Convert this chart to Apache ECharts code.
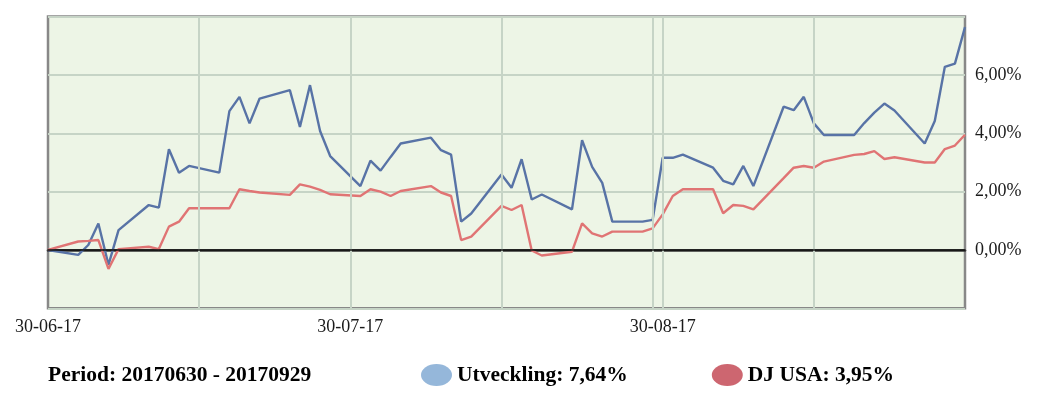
<!DOCTYPE html>
<html>
<head>
<meta charset="utf-8">
<script src="https://cdn.jsdelivr.net/npm/echarts@6/dist/echarts.min.js"></script>
<style>
  html, body { margin: 0; padding: 0; background: #fff; }
  #chart { width: 1041px; height: 397px; }
</style>
</head>
<body>
<div id="chart"></div>
<script>
// trading days in the period
const dates = [
  '2017-06-30',
  '2017-07-03', '2017-07-04', '2017-07-05', '2017-07-06', '2017-07-07',
  '2017-07-10', '2017-07-11', '2017-07-12', '2017-07-13', '2017-07-14',
  '2017-07-17', '2017-07-18', '2017-07-19', '2017-07-20', '2017-07-21',
  '2017-07-24', '2017-07-25', '2017-07-26', '2017-07-27', '2017-07-28',
  '2017-07-31', '2017-08-01', '2017-08-02', '2017-08-03', '2017-08-04',
  '2017-08-07', '2017-08-08', '2017-08-09', '2017-08-10', '2017-08-11',
  '2017-08-14', '2017-08-15', '2017-08-16', '2017-08-17', '2017-08-18',
  '2017-08-21', '2017-08-22', '2017-08-23', '2017-08-24', '2017-08-25',
  '2017-08-28', '2017-08-29', '2017-08-30', '2017-08-31', '2017-09-01',
  '2017-09-04', '2017-09-05', '2017-09-06', '2017-09-07', '2017-09-08',
  '2017-09-11', '2017-09-12', '2017-09-13', '2017-09-14', '2017-09-15',
  '2017-09-18', '2017-09-19', '2017-09-20', '2017-09-21', '2017-09-22',
  '2017-09-25', '2017-09-26', '2017-09-27', '2017-09-28', '2017-09-29'
]
// Utveckling (%)
const fundValues = [
  0,
  -0.17, 0.17, 0.91, -0.51, 0.68,
  1.54, 1.45, 3.45, 2.65, 2.88,
  2.65, 4.76, 5.25, 4.34, 5.19,
  5.48, 4.22, 5.65, 4.08, 3.22,
  2.19, 3.06, 2.72, 3.19, 3.65,
  3.85, 3.42, 3.27, 0.97, 1.25,
  2.59, 2.13, 3.11, 1.73, 1.9,
  1.39, 3.76, 2.85, 2.3, 0.97,
  0.97, 1.03, 3.16, 3.16, 3.27,
  2.82, 2.37, 2.25, 2.88, 2.19,
  4.91, 4.79, 5.25, 4.34, 3.94,
  3.94, 4.35, 4.71, 5.02, 4.78,
  3.65, 4.42, 6.28, 6.39, 7.64
]
// DJ USA (%)
const indexValues = [
  0,
  0.29, 0.31, 0.34, -0.65, 0.03,
  0.11, 0.03, 0.8, 0.97, 1.43,
  1.43, 1.43, 2.08, 2.02, 1.97,
  1.89, 2.25, 2.17, 2.06, 1.91,
  1.85, 2.08, 2.0, 1.85, 2.02,
  2.19, 1.97, 1.85, 0.34, 0.46,
  1.51, 1.37, 1.54, -0.02, -0.19,
  -0.06, 0.91, 0.57, 0.46, 0.63,
  0.63, 0.74, 1.22, 1.85, 2.08,
  2.08, 1.26, 1.54, 1.51, 1.39,
  2.46, 2.82, 2.88, 2.82, 3.03,
  3.26, 3.29, 3.39, 3.12, 3.18,
  3.0, 3.0, 3.46, 3.58, 3.95
]
const labelDates = ['2017-06-30', '2017-07-30', '2017-08-30']
const gridDates = ['2017-07-15', '2017-07-30', '2017-08-14', '2017-08-29', '2017-08-30', '2017-09-14']
const yTicks = [0, 2, 4, 6]
const seriesNames = ['Utveckling: 7,64%', 'DJ USA: 3,95%']
const periodText = 'Period: 20170630 - 20170929'

const ts = (s) => new Date(s + 'T00:00:00').getTime()
const pad = (n) => (n < 10 ? '0' + n : '' + n)
const serif = 'Liberation Serif'
const gridColor = '#c6d4c6'
const ellipse = 'path://M0,11 A15.5,11 0 1,1 31,11 A15.5,11 0 1,1 0,11 Z'

const chart = echarts.init(document.getElementById('chart'))
chart.setOption({
  animation: false,
  backgroundColor: '#fff',
  title: {
    text: periodText,
    left: 43,
    top: 359,
    textStyle: { fontFamily: serif, fontWeight: 'bold', fontSize: 21.5, color: '#000' }
  },
  legend: {
    left: 416,
    top: 359,
    itemGap: 84,
    itemWidth: 31,
    itemHeight: 22,
    data: [
      { name: seriesNames[0], icon: ellipse, itemStyle: { color: '#95b7da' } },
      { name: seriesNames[1], icon: ellipse, itemStyle: { color: '#cd6670' } }
    ],
    textStyle: { fontFamily: serif, fontWeight: 'bold', fontSize: 21.5, color: '#000' }
  },
  grid: {
    left: 48,
    right: 76,
    top: 16.6,
    bottom: 88.7,
    show: true,
    backgroundColor: '#edf5e6',
    borderColor: '#888',
    borderWidth: 2.5
  },
  xAxis: {
    type: 'value',
    min: ts('2017-06-30'),
    max: ts('2017-09-29'),
    splitLine: { show: false },
    axisTick: { show: false },
    axisLine: { lineStyle: { color: '#333', width: 2.5 } },
    axisLabel: {
      customValues: labelDates.map(ts),
      margin: 10,
      fontFamily: serif,
      fontSize: 18,
      color: '#1a1a1a',
      formatter: (v) => {
        const d = new Date(v)
        return pad(d.getDate()) + '-' + pad(d.getMonth() + 1) + '-' + String(d.getFullYear()).slice(2)
      }
    }
  },
  yAxis: {
    type: 'value',
    position: 'right',
    min: -2,
    max: 8,
    interval: 2,
    axisLine: { show: false },
    axisTick: { show: false },
    splitLine: { lineStyle: { color: gridColor, width: 2 } },
    axisLabel: {
      margin: 10,
      fontFamily: serif,
      fontSize: 18,
      color: '#1a1a1a',
      formatter: (v) => (yTicks.indexOf(v) >= 0 ? v.toFixed(2).replace('.', ',') + '%' : '')
    }
  },
  series: [
    {
      // background guides only
      type: 'line',
      name: 'guides',
      data: [],
      z: 1,
      silent: true,
      markLine: {
        silent: true,
        symbol: ['none', 'none'],
        label: { show: false },
        data: gridDates.map((d) => ({ xAxis: ts(d), lineStyle: { color: gridColor, width: 2, type: 'solid' } }))
          .concat([{ yAxis: 0, lineStyle: { color: '#111', width: 1.6, type: 'solid' } }])
      }
    },
    {
      name: seriesNames[0],
      type: 'line',
      z: 3,
      symbol: 'none',
      lineStyle: { color: '#5873a6', width: 2.4 },
      itemStyle: { color: '#5873a6' },
      data: dates.map((d, i) => [ts(d), fundValues[i]])
    },
    {
      name: seriesNames[1],
      type: 'line',
      z: 4,
      symbol: 'none',
      lineStyle: { color: '#e07474', width: 2.4 },
      itemStyle: { color: '#e07474' },
      data: dates.map((d, i) => [ts(d), indexValues[i]])
    }
  ]
})
</script>
</body>
</html>
